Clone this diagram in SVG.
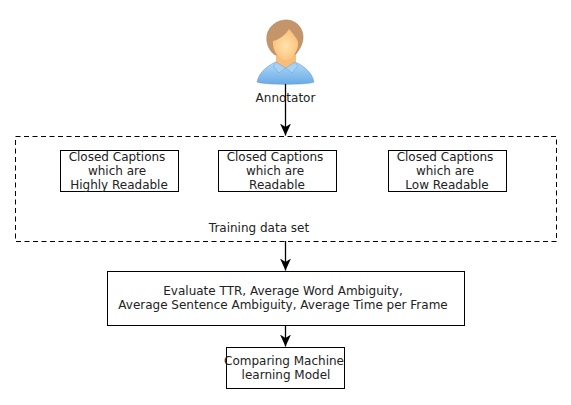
<svg xmlns="http://www.w3.org/2000/svg" width="571" height="405" viewBox="0 0 571 405">
<style>
text{font-family:"DejaVu Sans",sans-serif;font-size:12px;fill:#222;text-anchor:middle}
.box{fill:#fff;stroke:#000;stroke-width:1}
.conn{fill:none;stroke:#000;stroke-width:1.300;marker-end:url(#arrow)}
</style>
<defs>
<marker id="arrow" markerUnits="userSpaceOnUse" markerWidth="12" markerHeight="11" refX="12" refY="5.500" orient="auto" viewBox="0 0 12 11"><path d="M0 0L12 5.500L0 11L3.500 5.500Z" fill="#000"/></marker>
<linearGradient id="shirt" x1="0" y1="0" x2="0" y2="1"><stop offset="0" stop-color="#b4dcf8"/><stop offset="1" stop-color="#6aaae6"/></linearGradient>
<radialGradient id="face" cx="0.5" cy="0.55" r="0.6"><stop offset="0" stop-color="#ffe2ac"/><stop offset="1" stop-color="#fbbd74"/></radialGradient>
</defs>
<rect width="571" height="405" fill="#fff"/>
<g id="annotator">
<path d="M257 82C259 72 268 65 278 61L293 61C303 65 312 72 314 82C310 85 262 85 257 82Z" fill="url(#shirt)" stroke="#6c9fd0" stroke-width="0.600"/>
<path d="M276 50L296 50L296 63C292 69 280 69 276 63Z" fill="#f9bd78"/>
<path d="M276 62L285.500 68L279 73L273 66ZM295 62L285.500 68L292 73L298 66Z" fill="#a5d2f5" stroke="#6c9fd0" stroke-width="0.500"/>
<path d="M275 55C268 50 266 42 267 35C269 25 279 19 288 20C298 21 304 30 303 39C302 46 299 50 296 54L275 55Z" fill="#c4956a" stroke="#a97c55" stroke-width="0.500"/>
<path d="M273 41C278 40 285 36 289 29C293 34 297 38 298 42C299 50 292 60 286 60C279 60 272 50 273 41Z" fill="url(#face)"/>
<text x="285.500" y="102">Annotator</text>
</g>
<g id="training-set">
<rect x="15.500" y="136.500" width="541" height="105" fill="#fff" stroke="#000" stroke-width="1" stroke-dasharray="5 3.500"/>
<text x="259" y="232">Training data set</text>
</g>
<g id="high">
<rect class="box" x="60.500" y="150.500" width="118" height="41"/>
<text x="117" y="161">Closed Captions</text>
<text x="117" y="175">which are</text>
<text x="119" y="189">Highly Readable</text>
</g>
<g id="readable">
<rect class="box" x="218.500" y="150.500" width="118" height="41"/>
<text x="275" y="161">Closed Captions</text>
<text x="275" y="175">which are</text>
<text x="277" y="189">Readable</text>
</g>
<g id="low">
<rect class="box" x="388.500" y="150.500" width="118" height="41"/>
<text x="445" y="161">Closed Captions</text>
<text x="445" y="175">which are</text>
<text x="447" y="189">Low Readable</text>
</g>
<g id="evaluate">
<rect class="box" x="107.500" y="271.500" width="357" height="54"/>
<text x="283" y="295">Evaluate TTR, Average Word Ambiguity,</text>
<text x="283" y="309">Average Sentence Ambiguity, Average Time per Frame</text>
</g>
<g id="compare">
<rect class="box" x="226.500" y="347.500" width="118" height="41"/>
<text x="284" y="365">Comparing Machine</text>
<text x="286" y="379">learning Model</text>
</g>
<g id="connectors">
<path class="conn" d="M285.500 84V135.500"/>
<path class="conn" d="M285.500 241V270.500"/>
<path class="conn" d="M285.500 325V346.500"/>
</g>
</svg>
